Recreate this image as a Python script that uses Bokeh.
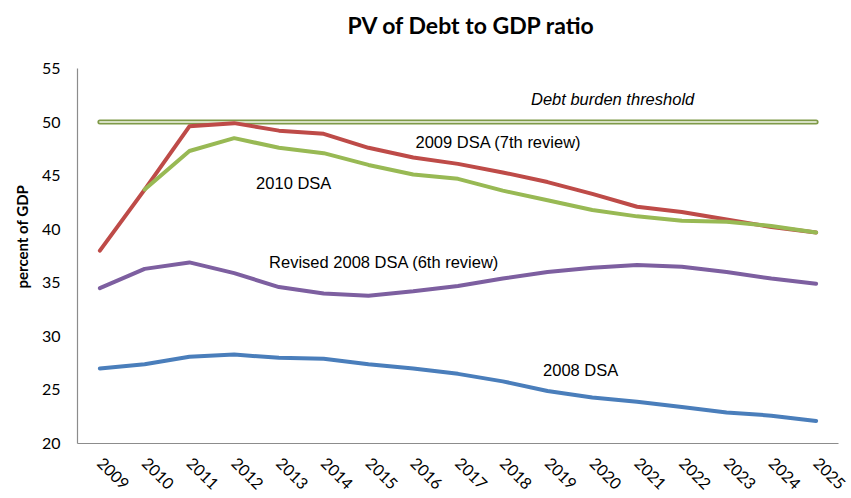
import math
from bokeh.plotting import figure
from bokeh.models import FactorRange, Range1d, Label, FixedTicker, Title
from bokeh.core.properties import value
from bokeh.embed import file_html
from bokeh.resources import INLINE

years = [str(y) for y in range(2009, 2026)]

dsa_2008 = [27.0, 27.4, 28.1, 28.3, 28.0, 27.9, 27.4, 27.0, 26.5, 25.8, 24.9, 24.3, 23.9, 23.4, 22.9, 22.6, 22.1]
dsa_2008_rev = [34.5, 36.3, 36.9, 35.9, 34.6, 34.0, 33.8, 34.2, 34.7, 35.4, 36.0, 36.4, 36.65, 36.5, 36.0, 35.4, 34.9]
dsa_2009 = [38.0, 43.7, 49.6, 49.9, 49.2, 48.9, 47.6, 46.7, 46.1, 45.3, 44.4, 43.3, 42.1, 41.6, 40.9, 40.2, 39.7]
dsa_2010_years = years[1:]
dsa_2010 = [43.7, 47.3, 48.5, 47.6, 47.1, 46.0, 45.1, 44.7, 43.6, 42.7, 41.8, 41.2, 40.8, 40.7, 40.3, 39.7]
threshold = [50.0] * len(years)

y_ticks = [20, 25, 30, 35, 40, 45, 50, 55]

p = figure(width=851, height=498, x_range=FactorRange(*years, range_padding=0),
           y_range=Range1d(20, 55), output_backend="svg", toolbar_location=None,
           min_border_left=77, min_border_right=13, min_border_top=68, min_border_bottom=55)

p.outline_line_color = None
p.xgrid.grid_line_color = None
p.ygrid.grid_line_color = None

# threshold double line
p.line(years, threshold, line_color="#7F9A48", line_width=5, line_cap="round")
p.line(years, threshold, line_color="#F4F7EC", line_width=1.6, line_cap="round")

p.line(years, dsa_2008, line_color="#4A7EBB", line_width=4, line_join="round", line_cap="round")
p.line(years, dsa_2008_rev, line_color="#7D5FA0", line_width=4, line_join="round", line_cap="round")
p.line(years, dsa_2009, line_color="#BE4B48", line_width=4, line_join="round", line_cap="round")
p.line(dsa_2010_years, dsa_2010, line_color="#98B954", line_width=4, line_join="round", line_cap="round")

# axes
for ax in (p.xaxis[0], p.yaxis[0]):
    ax.axis_line_color = "#8C8C8C"
    ax.axis_line_width = 1.2
    ax.major_tick_line_color = None
    ax.minor_tick_line_color = None
    ax.major_label_text_font = "Lato"
    ax.major_label_text_font_size = "16px"
    ax.major_label_text_color = "#000000"

p.yaxis.ticker = FixedTicker(ticks=y_ticks)
p.yaxis.major_label_standoff = 11

p.xaxis.major_label_orientation = -math.pi / 4
p.xaxis.major_label_standoff = 11

# y-axis title
ytitle = Title(text="percent of GDP", text_font="Lato", text_font_size="15px",
               text_font_style="bold", text_color="#000000", align="left", offset=155,
               standoff=16)
p.add_layout(ytitle, "left")

# chart title (blank second line lifts it toward the top of the canvas)
p.title.text = "PV of Debt to GDP ratio\n "
p.title.text_font = "Lato"
p.title.text_font_size = "23px"
p.title.text_font_style = "bold"
p.title.text_color = "#000000"
p.title.align = "left"
p.title.offset = 270
p.title.standoff = 4

lab_font = "Liberation Sans"
labels = [
    ("2009 DSA (7th review)", 7.55, 48.1, "normal"),
    ("2010 DSA", 3.99, 44.35, "normal"),
    ("Revised 2008 DSA (6th review)", 4.28, 36.9, "normal"),
    ("2008 DSA", 10.4, 26.9, "normal"),
    ("Debt burden threshold", 10.13, 52.2, "italic"),
]
for txt, x, y, style in labels:
    p.add_layout(Label(x=x, y=y, text=txt, text_font=lab_font, text_font_size="16.5px",
                       text_font_style=style, text_baseline="middle", text_align="left",
                       text_color="#000000"))

open("out.html", "w").write(file_html(p, INLINE))
